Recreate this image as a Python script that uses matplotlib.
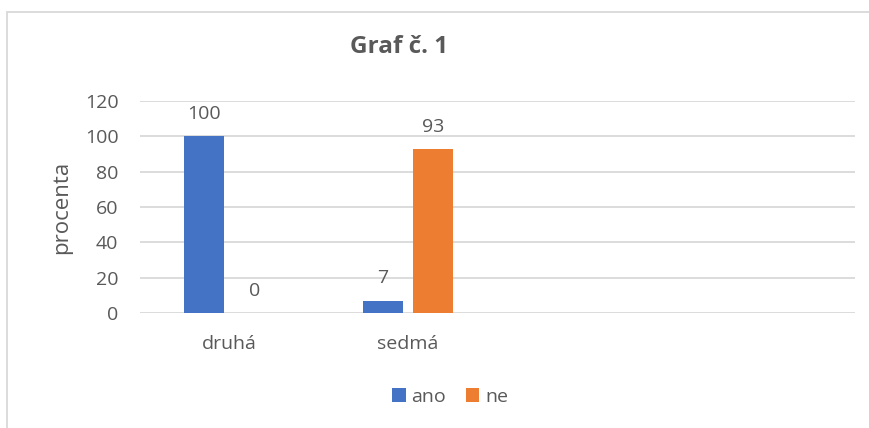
import numpy as np
import matplotlib.pyplot as plt
from matplotlib.patches import Rectangle

# Data
categories = ["druhá", "sedmá", "", ""]
ano = [100, 7, None, None]
ne = [0, 93, None, None]
series_names = ["ano", "ne"]
colors = ["#4472C4", "#ED7D31"]
text_color = "#595959"

plt.rcParams['font.family'] = ['Open Sans', 'DejaVu Sans']

fig = plt.figure(figsize=(8.69, 4.28), dpi=100)

# chart area border (Excel style), right and bottom edges run off the picture
fig.patches.append(Rectangle((7.5 / 869, -0.1), 1.2, 1.1 - 12 / 428,
                             transform=fig.transFigure, fill=False,
                             edgecolor="#d9d9d9", linewidth=1.3))

ax = fig.add_axes([140 / 869, 1 - 313 / 428, 715 / 869, 212 / 428])

x = np.arange(len(categories))
width = 0.224
offset = 0.14

for i, (vals, name) in enumerate(zip([ano, ne], series_names)):
    xs = [xi + (2 * i - 1) * offset for xi, v in zip(x, vals) if v is not None]
    vs = [v for v in vals if v is not None]
    bars = ax.bar(xs, vs, width, color=colors[i], label=name, zorder=3)
    for b, v in zip(bars, vs):
        ax.annotate(str(v), (b.get_x() + b.get_width() / 2, v),
                    xytext=(0, 9.5), textcoords="offset points",
                    ha="center", va="bottom", fontsize=14, color=text_color)

ax.set_xlim(-0.5, 3.5)
ax.set_ylim(0, 120)
ax.set_yticks(range(0, 121, 20))
ax.set_xticks(x)
ax.set_xticklabels(categories)
ax.tick_params(axis="both", length=0, labelsize=14, colors=text_color)
ax.tick_params(axis="x", pad=16)
ax.tick_params(axis="y", pad=15.5)
ax.grid(axis="y", color="#d9d9d9", linewidth=1.3, zorder=0)
for s in ax.spines.values():
    s.set_visible(False)

ax.set_ylabel("procenta", fontsize=16, color=text_color, va="center")
ax.yaxis.set_label_coords(-0.109, 0.5)

fig.text(399 / 869, 1 - 53 / 428, "Graf č. 1", ha="center", va="baseline",
         fontsize=17.5, fontweight="bold", color=text_color)

fig.legend(loc="center", bbox_to_anchor=(450 / 869, 1 - 397 / 428), ncol=2,
           frameon=False, fontsize=14, labelcolor=text_color,
           handlelength=0.7, handleheight=0.7, handletextpad=0.3,
           columnspacing=1.0)

fig.savefig("out.png", dpi=100)
